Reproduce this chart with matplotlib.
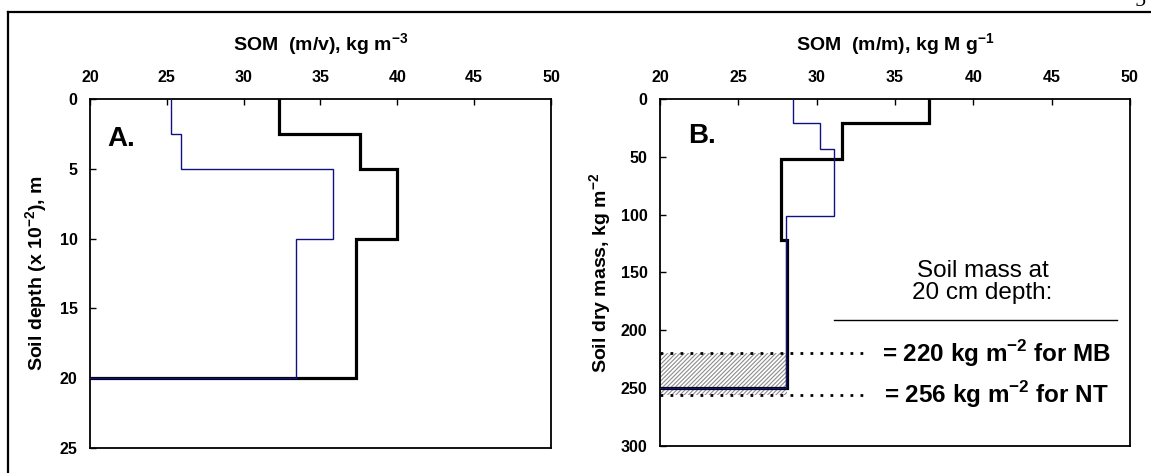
import numpy as np
import matplotlib
matplotlib.use("Agg")
import matplotlib.pyplot as plt
from matplotlib.lines import Line2D

plt.rcParams['font.family'] = ['Liberation Sans', 'DejaVu Sans']
plt.rcParams['mathtext.fontset'] = 'custom'
plt.rcParams['mathtext.rm'] = 'Liberation Sans'
plt.rcParams['mathtext.bf'] = 'Liberation Sans:bold'
plt.rcParams['hatch.linewidth'] = 0.8

# Panel A: SOM concentration (m/v) by soil depth layer
depth_edges = [0, 2.5, 5, 10, 20]
som_mv_nt = [32.3, 37.6, 40.0, 37.3]
som_mv_mb = [25.3, 25.9, 35.8, 33.4]

# Panel B: SOM concentration (m/m) by cumulative soil dry mass
mass_edges_nt = [0, 21, 52, 122, 250]
som_mm_nt = [37.2, 31.6, 27.7, 28.1]
mass_edges_mb = [0, 21, 43, 101, 250]
som_mm_mb = [28.5, 30.2, 31.1, 28.05]

# Equivalent soil mass at 20 cm depth
mass_mb = 220
mass_nt = 256

x_ticks = [20, 25, 30, 35, 40, 45, 50]
depth_ticks = [0, 5, 10, 15, 20, 25]
mass_ticks = [0, 50, 100, 150, 200, 250, 300]

X_MIN, X_MAX = 20, 50


def profile(edges, values, x0):
    """Staircase path of a layered profile, closed back to the left axis."""
    xs, ys = [], []
    for i, v in enumerate(values):
        xs += [v, v]
        ys += [edges[i], edges[i + 1]]
    xs.append(x0)
    ys.append(edges[-1])
    return np.array(xs), np.array(ys)


fig = plt.figure(figsize=(11.51, 4.73), dpi=100)

axA = fig.add_axes([0.0782, 0.0529, 0.4005, 0.7378])
axB = fig.add_axes([0.5734, 0.0571, 0.4083, 0.7336])

black_kw = dict(color='black', lw=2.3, solid_joinstyle='miter', zorder=3)
blue_kw = dict(color='#101080', lw=1.0, solid_joinstyle='miter', zorder=4)

TICK_SIZE = 11.5
LABEL_SIZE = 14

for ax in (axA, axB):
    ax.set_xlim(X_MIN, X_MAX)
    ax.set_xticks(x_ticks)
    ax.xaxis.tick_top()
    ax.xaxis.set_label_position('top')
    ax.tick_params(axis='both', direction='in', length=4, width=1,
                   labelsize=TICK_SIZE, top=True, bottom=False,
                   left=True, right=False)
    ax.tick_params(axis='x', pad=10)
    ax.tick_params(axis='y', pad=9)
    for sp in ax.spines.values():
        sp.set_linewidth(1.3)

# ---- Panel A ----
axA.set_ylim(25, 0)
axA.set_yticks(depth_ticks)
x, y = profile(depth_edges, som_mv_nt, X_MIN)
axA.plot(x, y, **black_kw)
x, y = profile(depth_edges, som_mv_mb, X_MIN)
axA.plot(x, y, **blue_kw)
axA.set_xlabel(r'SOM  (m/v), kg m$^{\mathbf{-3}}$', fontsize=LABEL_SIZE,
               fontweight='bold', labelpad=14)
axA.set_ylabel(r'Soil depth (x 10$^{\mathbf{-2}}$), m', fontsize=LABEL_SIZE,
               fontweight='bold', labelpad=7)
axA.text(21.1, 2.9, 'A.', fontsize=20, fontweight='bold', va='center',
         ha='left')

# ---- Panel B ----
axB.set_ylim(300, 0)
axB.set_yticks(mass_ticks)

fill_right = som_mm_nt[-1]
axB.fill_betweenx([mass_mb, mass_nt], X_MIN, fill_right, facecolor='none',
                  edgecolor='#8c8c8c', hatch='/' * 8, linewidth=0, zorder=1)

x, y = profile(mass_edges_nt, som_mm_nt, X_MIN)
axB.plot(x, y, **black_kw)
x, y = profile(mass_edges_mb, som_mm_mb, X_MIN)
axB.plot(x, y, **blue_kw)

dot_end = 33.05
for m in (mass_mb, mass_nt):
    axB.plot([X_MIN, dot_end], [m, m], color='black', lw=2.0,
             linestyle=(0, (1.0, 2.6)), dash_capstyle='butt', zorder=5)

axB.plot([31.1, 49.2], [191, 191], color='black', lw=1.0)
axB.text(40.6, 149, 'Soil mass at', fontsize=17.5, ha='center', va='center')
axB.text(40.6, 168, '20 cm depth:', fontsize=17.5, ha='center', va='center')
axB.text(41.5, 220.5, r'= %d kg m$^{\mathbf{-2}}$ for MB' % mass_mb,
         fontsize=17.5, fontweight='bold', ha='center', va='center')
axB.text(41.5, 255.5, r'= %d kg m$^{\mathbf{-2}}$ for NT' % mass_nt,
         fontsize=17.5, fontweight='bold', ha='center', va='center')

axB.set_xlabel(r'SOM  (m/m), kg M g$^{\mathbf{-1}}$', fontsize=LABEL_SIZE,
               fontweight='bold', labelpad=14)
axB.set_ylabel(r'Soil dry mass, kg m$^{\mathbf{-2}}$', fontsize=LABEL_SIZE,
               fontweight='bold', labelpad=5)
axB.text(21.8, 32, 'B.', fontsize=20, fontweight='bold', va='center',
         ha='left')

for ax in (axA, axB):
    for lab in ax.get_xticklabels() + ax.get_yticklabels():
        lab.set_fontweight('bold')

# Page frame and page number
fx = 8 / 1151
fy = 1 - 12 / 473
fig.add_artist(Line2D([fx, 1], [fy, fy], color='black', lw=1.6,
                      transform=fig.transFigure))
fig.add_artist(Line2D([fx, fx], [0, fy], color='black', lw=1.6,
                      transform=fig.transFigure))
fig.text(1136 / 1151, 1 - 6 / 473, '5', fontsize=15, fontstyle='italic',
         family='Liberation Serif', ha='left', va='baseline')

fig.savefig('out.png', dpi=100)
